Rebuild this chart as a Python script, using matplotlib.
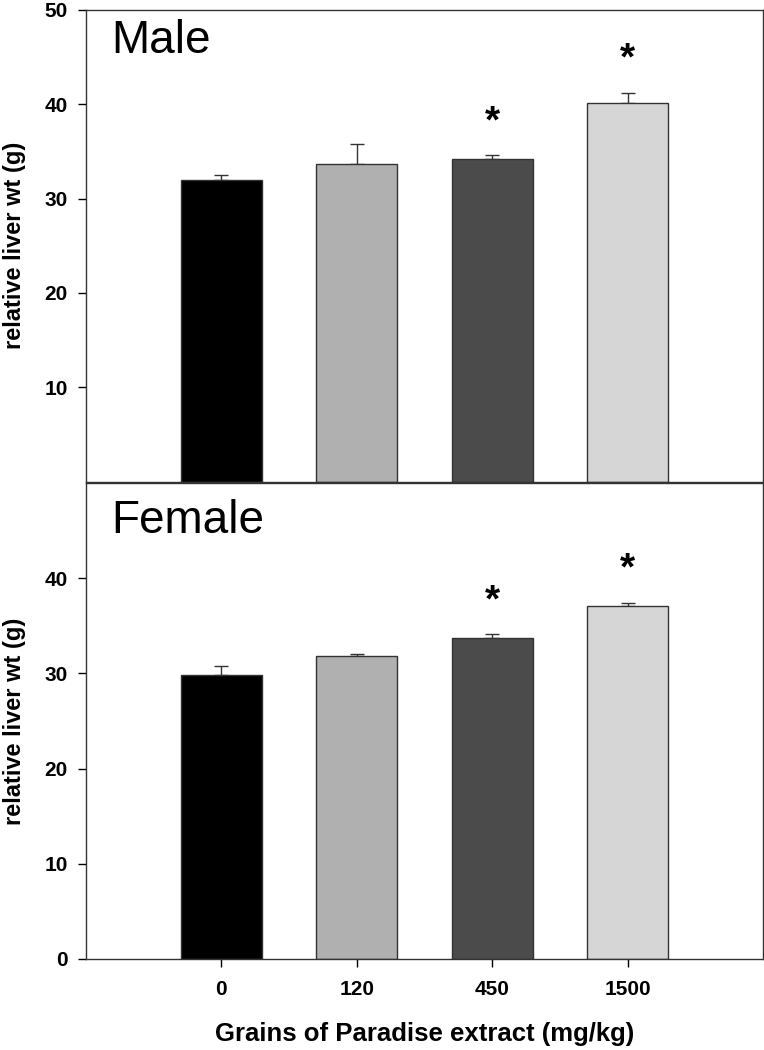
import matplotlib
matplotlib.use("Agg")
import matplotlib.pyplot as plt
import numpy as np

plt.rcParams["font.family"] = ["Liberation Sans", "DejaVu Sans"]

# Data
doses = ["0", "120", "450", "1500"]
bar_colors = ["#000000", "#b0b0b0", "#4b4b4b", "#d6d6d6"]

male_mean = [32.0, 33.7, 34.2, 40.1]
male_sem = [0.5, 2.1, 0.4, 1.1]
male_sig = [False, False, True, True]

female_mean = [29.8, 31.8, 33.7, 37.1]
female_sem = [1.0, 0.2, 0.4, 0.3]
female_sig = [False, False, True, True]

fig = plt.figure(figsize=(7.64, 10.5), dpi=100)
ax_top = fig.add_axes([0.1126, 0.5414, 0.8861, 0.4491])
ax_bot = fig.add_axes([0.1126, 0.0867, 0.8861, 0.4533])

x = np.arange(len(doses))


def draw_panel(ax, means, sems, sig, label, label_y, yticks):
    ax.bar(x, means, width=0.6, color=bar_colors, edgecolor="#333333",
           linewidth=1.0, zorder=2)
    ax.errorbar(x, means, yerr=[np.zeros(len(sems)), sems], fmt="none",
                ecolor="#333333", elinewidth=1.0, capsize=5, capthick=1.0,
                zorder=1)
    for xi, m, s, flag in zip(x, means, sems, sig):
        if flag:
            ax.text(xi, m + s + 3.5, "*", ha="center", va="center",
                    fontsize=28, fontweight="bold")
    ax.set_xlim(-1, 4)
    ax.set_ylim(0, 50)
    ax.set_yticks(yticks)
    ax.set_yticklabels([str(t) for t in yticks], fontsize=15, fontweight="bold")
    ax.tick_params(axis="y", direction="out", length=6, width=1.0, pad=7)
    ax.set_ylabel("relative liver wt (g)", fontsize=17, fontweight="bold")
    ax.yaxis.set_label_coords(-0.089, 0.5)
    ax.text(0.037, label_y, label, transform=ax.transAxes, ha="left",
            va="baseline", fontsize=33)
    for sp in ax.spines.values():
        sp.set_linewidth(1.0)
        sp.set_color("#333333")


draw_panel(ax_top, male_mean, male_sem, male_sig, "Male", 0.909,
           [10, 20, 30, 40, 50])
ax_top.set_xticks([])

draw_panel(ax_bot, female_mean, female_sem, female_sig, "Female", 0.895,
           [0, 10, 20, 30, 40])
ax_bot.set_xticks(x)
ax_bot.set_xticklabels(doses, fontsize=15, fontweight="bold")
ax_bot.tick_params(axis="x", direction="out", length=6, width=1.0, pad=9)
ax_bot.set_xlabel("Grains of Paradise extract (mg/kg)", fontsize=18.5,
                  fontweight="bold", labelpad=17)

fig.savefig("out.png", dpi=100)
